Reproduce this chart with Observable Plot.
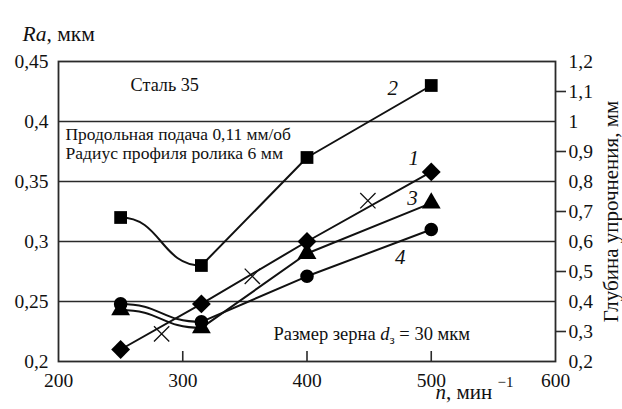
<!DOCTYPE html>
<html>
<head>
<meta charset="utf-8">
<script src="https://cdn.jsdelivr.net/npm/d3@7"></script>
<script src="https://cdn.jsdelivr.net/npm/@observablehq/plot@0.6"></script>
<style>
  body { margin: 0; background: #fff; }
  #chart svg, #chart svg text, #chart svg tspan { font-family: "Liberation Serif", serif !important; }
</style>
</head>
<body>
<div id="chart"></div>
<script>
// Rolling speed n, min^-1
const speeds = [250, 315, 400, 500];

// Roughness Ra, µm, for each curve
const ra1 = [0.21, 0.248, 0.30, 0.358];
const ra2 = [0.32, 0.28, 0.37, 0.43];
const ra3 = [0.243, 0.228, 0.29, 0.332];
const ra4 = [0.248, 0.233, 0.271, 0.31];

// Separate cross markers
const crossSpeeds = [283, 356, 449];
const crossRa = [0.223, 0.271, 0.334];

// Curve numbers and where they sit
const curveIds = ["1", "2", "3", "4"];
const labelSpeeds = [486, 469, 485, 475];
const labelRa = [0.369, 0.4275, 0.336, 0.287];

// Axis ticks
const xTicks = [200, 300, 400, 500, 600];
const innerXTicks = [300, 400, 500];
const raTicks = [0.2, 0.25, 0.3, 0.35, 0.4, 0.45];
const raGrid = [0.25, 0.3, 0.35, 0.4];
const depthTicks = [0.2, 0.3, 0.4, 0.5, 0.6, 0.7, 0.8, 0.9, 1.0, 1.1, 1.2];

// Right axis (hardening depth, mm) shares the vertical range 0.2..1.2 ↔ 0.2..0.45
const depthToRa = d => 0.2 + (d - 0.2) * 0.25;
const raToDepth = r => 0.2 + (r - 0.2) * 4;
const comma = v => String(v).replace(".", ",");
const fmtRa = v => comma(Math.round(v * 100) / 100);
const fmtDepth = v => comma(Math.round(raToDepth(v) * 10) / 10);

const seriesValues = [ra1, ra2, ra3, ra4];
const symbols = ["diamond2", "square", "triangle", "circle"];
const radii = [8.5, 7.2, 7, 6.8];
// Curves whose first stretch bends smoothly between points
const smoothStart = ["2", "3", "4"];

const rows = curveIds.flatMap((id, i) =>
  speeds.map((n, j) => ({id, j, n, ra: seriesValues[i][j], symbol: symbols[i], r: radii[i]}))
);
const firstStretch = rows.filter(d => smoothStart.includes(d.id) && d.j <= 1);
const restStretch = rows.filter(d => !smoothStart.includes(d.id) || d.j >= 1);
const crosses = crossSpeeds.map((n, i) => ({n, ra: crossRa[i]}));
const labels = curveIds.map((id, i) => ({id, n: labelSpeeds[i], ra: labelRa[i]}));

const serif = "Liberation Serif";

const oddDepth = depthTicks.filter((d, i) => i % 2 === 1).map(depthToRa);
const evenDepth = depthTicks.filter((d, i) => i % 2 === 0).map(depthToRa);

const ink = "#111";
const rule = "#2a2a2a";
const txt = {fontFamily: serif, fill: ink};

const chart = Plot.plot({
  width: 622,
  height: 409,
  marginLeft: 58,
  marginRight: 67,
  marginTop: 61,
  marginBottom: 48,
  style: {fontFamily: serif, fontSize: "19px", color: ink, background: "#fff", overflow: "visible"},
  x: {domain: [200, 600]},
  y: {domain: [0.2, 0.45]},
  r: {type: "identity"},
  marks: [
    Plot.ruleY(raGrid, {stroke: rule, strokeWidth: 1.6}),
    Plot.frame({stroke: rule, strokeWidth: 1.8}),
    Plot.tickX(innerXTicks, {x: d => d, insetTop: 290, stroke: rule, strokeWidth: 1.6}),
    Plot.axisX(xTicks, {tickSize: 0, tickPadding: 12, tickFormat: d => String(d), label: null, fontSize: 19.5, fontFamily: serif}),
    Plot.axisY(raTicks, {anchor: "left", tickSize: 0, tickPadding: 10, tickFormat: fmtRa, label: null, fontSize: 19.5, fontFamily: serif}),
    Plot.axisY(oddDepth, {anchor: "right", tickSize: 10, tickPadding: 3, tickFormat: fmtDepth, label: null, fontSize: 19.5, fontFamily: serif, stroke: rule, strokeWidth: 1.6}),
    Plot.axisY(evenDepth, {anchor: "right", tickSize: 0, tickPadding: 13, tickFormat: fmtDepth, label: null, fontSize: 19.5, fontFamily: serif}),
    Plot.line(firstStretch, {x: "n", y: "ra", z: "id", curve: "bump-x", stroke: ink, strokeWidth: 2}),
    Plot.line(restStretch, {x: "n", y: "ra", z: "id", curve: "linear", stroke: ink, strokeWidth: 2}),
    Plot.dot(rows, {x: "n", y: "ra", symbol: "symbol", r: "r", fill: "#000", stroke: "none"}),
    Plot.dot(crosses, {x: "n", y: "ra", symbol: "times", r: 7, stroke: ink, strokeWidth: 1.3, fill: "none"}),
    Plot.text(labels, {x: "n", y: "ra", text: "id", fontStyle: "italic", fontSize: 21, ...txt}),
    Plot.text(["Сталь 35"], {x: 258, y: 0.43, textAnchor: "start", fontSize: 18.2, ...txt}),
    Plot.text(["Продольная подача 0,11 мм/об"], {x: 205.6, y: 0.3895, textAnchor: "start", fontSize: 17.4, ...txt}),
    Plot.text(["Радиус профиля ролика 6 мм"], {x: 205.6, y: 0.3735, textAnchor: "start", fontSize: 17.6, ...txt}),
    Plot.text(["Размер зерна dз = 30 мкм"], {x: 373, y: 0.2225, textAnchor: "start", fontSize: 18.5, ...txt}),
    Plot.text(["Ra, мкм"], {frameAnchor: "top-left", dx: -36, dy: -36, textAnchor: "start", fontSize: 21.5, ...txt}),
    Plot.text(["n, мин −1"], {frameAnchor: "bottom-right", dx: -42, dy: 37, textAnchor: "end", fontSize: 21, ...txt}),
    Plot.text(["Глубина упрочнения, мм"], {frameAnchor: "right", dx: 55.5, rotate: -90, textAnchor: "middle", fontSize: 21, ...txt})
  ]
});

// Italic symbols, subscript and superscript inside a few text labels
d3.select(chart).selectAll("text").each(function () {
  const t = this.textContent;
  if (t === "Размер зерна dз = 30 мкм") {
    this.innerHTML = 'Размер зерна <tspan font-style="italic">d</tspan><tspan dy="4" font-size="13">з</tspan><tspan dy="-4"> = 30 мкм</tspan>';
  } else if (t === "Ra, мкм") {
    this.innerHTML = '<tspan font-style="italic">Ra</tspan>, мкм';
  } else if (t === "n, мин −1") {
    this.innerHTML = '<tspan font-style="italic">n</tspan>, мин <tspan dy="-12" font-size="15">−1</tspan>';
  }
});

document.getElementById("chart").appendChild(chart);
</script>
</body>
</html>
